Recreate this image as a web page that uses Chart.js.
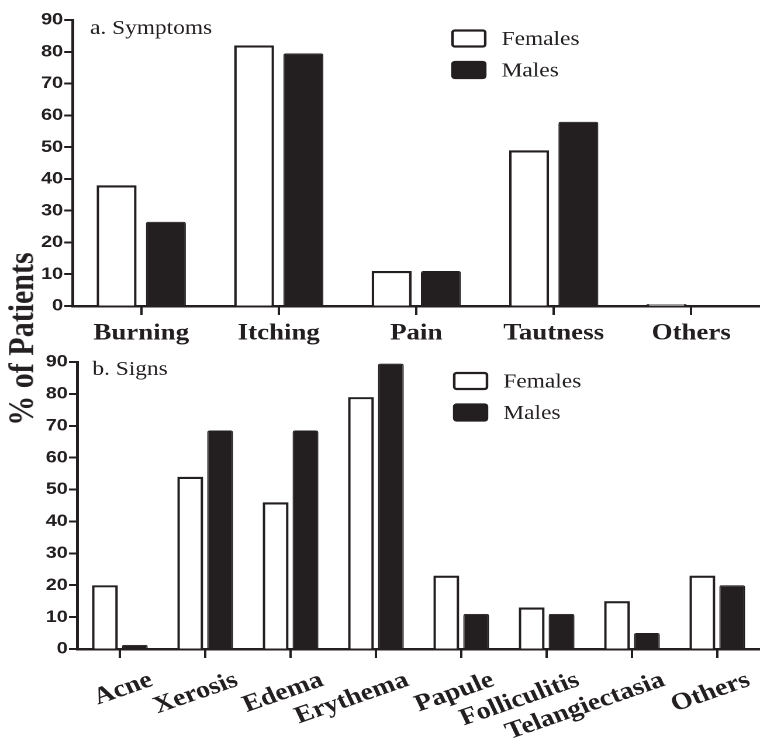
<!DOCTYPE html>
<html>
<head>
<meta charset="utf-8">
<script src="https://cdn.jsdelivr.net/npm/chart.js@4/dist/chart.umd.min.js"></script>
<style>
  body { margin: 0; background: #fff; overflow: hidden; }
  #wrap { position: absolute; left: 0; top: 0; width: 650px; height: 741px; transform: scaleX(1.1692); transform-origin: 0 0; }
  .box { position: absolute; left: 0; width: 650px; }
  #ytitle { position: absolute; left: -82px; top: 322px; width: 200px; height: 34px; line-height: 34px; text-align: center;
            font: bold 30px "Liberation Serif", serif; color: #231f20; transform: rotate(-90deg); white-space: nowrap; }
</style>
</head>
<body>
<div id="wrap">
  <div class="box" style="top:0;height:350px"><canvas id="symptoms"></canvas></div>
  <div class="box" style="top:350px;height:391px"><canvas id="signs"></canvas></div>
  <div id="ytitle">% of Patients</div>
</div>
<script>
// a. Symptoms
const symptomLabels = ["Burning", "Itching", "Pain", "Tautness", "Others"];
const symptomFemales = [38, 82, 11, 49, 0.6];
const symptomMales = [26.5, 79.5, 11, 58, 0];

// b. Signs
const signLabels = ["Acne", "Xerosis", "Edema", "Erythema", "Papule", "Folliculitis", "Telangiectasia", "Others"];
const signFemales = [20, 54, 46, 79, 23, 13, 15, 23];
const signMales = [1.3, 68.5, 68.5, 89.5, 11, 11, 5, 20];

const yTicks = [0, 10, 20, 30, 40, 50, 60, 70, 80, 90];

const ink = "#231f20";
Chart.defaults.color = ink;

//legend boxes + panel title drawn on the canvas
const panelDecor = {
  id: "panelDecor",
  afterDraw(chart, args, opts) {
    const ctx = chart.ctx;
    ctx.save();
    ctx.font = '20px "Liberation Serif"';
    ctx.fillStyle = ink;
    ctx.textBaseline = "alphabetic";
    ctx.fillText(opts.title, opts.titleX, opts.titleY);
    ctx.textBaseline = "middle";
    chart.data.datasets.forEach((ds, i) => {
      const y = opts.legendY + i * 31.5;
      ctx.fillStyle = ds.backgroundColor;
      ctx.strokeStyle = ds.borderColor;
      ctx.lineWidth = 2.2;
      ctx.beginPath();
      ctx.roundRect(opts.legendX, y - 8, 28, 16, 2);
      ctx.fill();
      ctx.stroke();
      ctx.fillStyle = ink;
      ctx.fillText(ds.label, opts.legendX + 42, y + 1);
    });
    ctx.restore();
  }
};

function makeDatasets(females, males, cp, bp) {
  return [
    { label: "Females", data: females, backgroundColor: "#ffffff", borderColor: ink, borderWidth: 2.2,
      categoryPercentage: cp, barPercentage: bp },
    { label: "Males", data: males, backgroundColor: ink, borderColor: ink, borderWidth: 1,
      borderRadius: 2, borderSkipped: "bottom", categoryPercentage: cp, barPercentage: bp }
  ];
}

function yScale(width) {
  return {
    min: 0, max: 90,
    afterBuildTicks: (s) => { s.ticks = yTicks.map(v => ({ value: v })); },
    afterFit: (s) => { s.width = width; },
    ticks: { padding: 1, font: { family: "Liberation Sans", size: 17, weight: "bold" }, color: ink },
    grid: { drawOnChartArea: false, drawTicks: true, tickLength: 7, tickWidth: 2, tickColor: ink },
    border: { display: true, color: ink, width: 2.5 }
  };
}

new Chart(document.getElementById("symptoms"), {
  type: "bar",
  data: { labels: symptomLabels, datasets: makeDatasets(symptomFemales, symptomMales, 0.717, 0.81) },
  plugins: [panelDecor],
  options: {
    responsive: true, maintainAspectRatio: false, animation: false, devicePixelRatio: 2,
    layout: { padding: { top: 20, left: 0, right: 0, bottom: 0 } },
    plugins: {
      legend: { display: false }, tooltip: { enabled: false },
      panelDecor: { title: "a. Symptoms", titleX: 77, titleY: 34, legendX: 387, legendY: 38.5 }
    },
    scales: {
      x: {
        afterFit: (s) => { s.height = 44; },
        ticks: { autoSkip: false, maxRotation: 0, padding: 5, font: { family: "Liberation Serif", size: 23, weight: "bold" }, color: ink },
        grid: { offset: false, drawOnChartArea: false, drawTicks: true, tickLength: 9, tickWidth: 2, tickColor: ink },
        border: { display: true, color: ink, width: 2.5 }
      },
      y: yScale(62)
    }
  }
});

new Chart(document.getElementById("signs"), {
  type: "bar",
  data: { labels: signLabels, datasets: makeDatasets(signFemales, signMales, 0.70, 0.865) },
  plugins: [panelDecor],
  options: {
    responsive: true, maintainAspectRatio: false, animation: false, devicePixelRatio: 2,
    layout: { padding: { top: 12, left: 0, right: 0, bottom: 0 } },
    plugins: {
      legend: { display: false }, tooltip: { enabled: false },
      panelDecor: { title: "b. Signs", titleX: 79, titleY: 25, legendX: 388.5, legendY: 31 }
    },
    scales: {
      x: {
        afterFit: (s) => { s.height = 92; },
        ticks: { autoSkip: false, minRotation: 22, maxRotation: 22, labelOffset: 27, padding: 8,
                 font: { family: "Liberation Serif", size: 24, weight: "bold" }, color: ink },
        grid: { offset: false, drawOnChartArea: false, drawTicks: true, tickLength: 9, tickWidth: 2, tickColor: ink },
        border: { display: true, color: ink, width: 2.5 }
      },
      y: yScale(66)
    }
  }
});
</script>
</body>
</html>
